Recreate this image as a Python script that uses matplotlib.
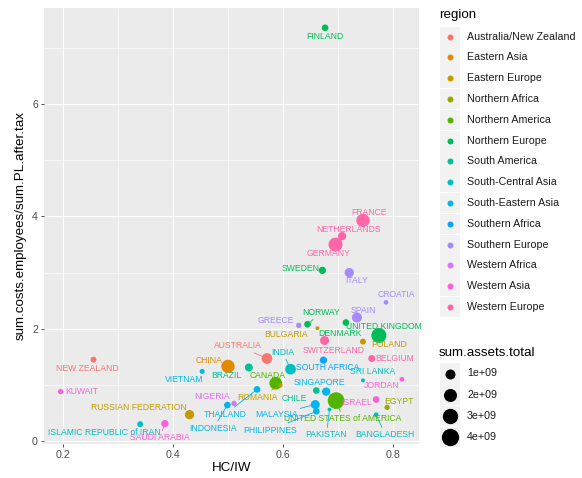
import numpy as np
import matplotlib.pyplot as plt
from matplotlib.patches import Rectangle

plt.rcParams['font.family'] = ['Liberation Sans', 'DejaVu Sans']

# data
countries = ["FINLAND", "FRANCE", "NETHERLANDS", "GERMANY", "SWEDEN", "ITALY", "CROATIA",
             "SPAIN", "GREECE", "NORWAY", "BULGARIA", "DENMARK", "UNITED KINGDOM", "POLAND",
             "SWITZERLAND", "AUSTRALIA", "INDIA", "CHINA", "BRAZIL", "SOUTH AFRICA", "BELGIUM",
             "SRI LANKA", "JORDAN", "CANADA", "ROMANIA", "SINGAPORE", "CHILE",
             "UNITED STATES of AMERICA", "ISRAEL", "EGYPT", "MALAYSIA", "PHILIPPINES",
             "PAKISTAN", "BANGLADESH", "THAILAND", "INDONESIA", "NIGERIA", "VIETNAM",
             "NEW ZEALAND", "KUWAIT", "RUSSIAN FEDERATION", "ISLAMIC REPUBLIC of IRAN",
             "SAUDI ARABIA"]
regions = ["Northern Europe", "Western Europe", "Western Europe", "Western Europe",
           "Northern Europe", "Southern Europe", "Southern Europe", "Southern Europe",
           "Southern Europe", "Northern Europe", "Eastern Europe", "Northern Europe",
           "Northern Europe", "Eastern Europe", "Western Europe", "Australia/New Zealand",
           "South-Central Asia", "Eastern Asia", "South America", "Southern Africa",
           "Western Europe", "South-Central Asia", "Western Asia", "Northern America",
           "Eastern Europe", "South-Eastern Asia", "South America", "Northern America",
           "Western Asia", "Northern Africa", "South-Eastern Asia", "South-Eastern Asia",
           "South-Central Asia", "South-Central Asia", "South-Eastern Asia",
           "South-Eastern Asia", "Western Africa", "South-Eastern Asia",
           "Australia/New Zealand", "Western Asia", "Eastern Europe", "South-Central Asia",
           "Western Asia"]
hc_iw = [0.677, 0.746, 0.708, 0.696, 0.672, 0.721, 0.788, 0.735, 0.629, 0.645, 0.663,
         0.715, 0.775, 0.746, 0.676, 0.571, 0.614, 0.500, 0.538, 0.674, 0.762, 0.746,
         0.817, 0.587, 0.596, 0.679, 0.661, 0.697, 0.770, 0.790, 0.659, 0.661, 0.685,
         0.770, 0.553, 0.499, 0.511, 0.453, 0.255, 0.195, 0.430, 0.340, 0.385]
cost_ratio = [7.36, 3.93, 3.65, 3.50, 3.04, 3.00, 2.47, 2.20, 2.06, 2.08, 2.01, 2.11, 1.88,
              1.77, 1.79, 1.47, 1.28, 1.33, 1.31, 1.44, 1.47, 1.08, 1.10, 1.03, 0.99, 0.88,
              0.90, 0.72, 0.74, 0.60, 0.65, 0.53, 0.56, 0.47, 0.92, 0.64, 0.67, 1.24, 1.45,
              0.88, 0.47, 0.30, 0.31]
assets = np.array([0.30, 2.10, 0.59, 2.40, 0.40, 0.82, 0.075, 1.00, 0.13, 0.30, 0.03, 0.30,
                   2.84, 0.20, 0.74, 1.20, 1.20, 2.10, 0.53, 0.40, 0.35, 0.03, 0.075, 1.88,
                   0.03, 0.59, 0.30, 3.68, 0.30, 0.13, 0.74, 0.30, 0.03, 0.075, 0.30, 0.30,
                   0.13, 0.10, 0.20, 0.13, 0.82, 0.20, 0.40]) * 1e9

region_levels = ["Australia/New Zealand", "Eastern Asia", "Eastern Europe", "Northern Africa",
                 "Northern America", "Northern Europe", "South America", "South-Central Asia",
                 "South-Eastern Asia", "Southern Africa", "Southern Europe", "Western Africa",
                 "Western Asia", "Western Europe"]
region_colors = ["#F8766D", "#E38900", "#C49A00", "#99A800", "#53B400", "#00BC56", "#00C094",
                 "#00BFC4", "#00B6EB", "#06A4FF", "#A58AFF", "#DF70F8", "#FB61D7", "#FF66A8"]
size_breaks = [1e9, 2e9, 3e9, 4e9]
size_labels = ["1e+09", "2e+09", "3e+09", "4e+09"]

# label placement (pixel offsets, y down), like ggrepel output
label_offsets = {
    "FINLAND": (0, 9), "FRANCE": (6, -8), "NETHERLANDS": (6, -7), "GERMANY": (-7, 9),
    "SWEDEN": (-22, -2), "ITALY": (7, 8), "CROATIA": (10, -8), "SPAIN": (6, -7),
    "GREECE": (-23, -5), "NORWAY": (14, -12), "BULGARIA": (-31, 6), "DENMARK": (-6, 11),
    "UNITED KINGDOM": (5, -9), "POLAND": (26, 3), "SWITZERLAND": (9, 10),
    "AUSTRALIA": (-29, -13), "INDIA": (-8, -17), "CHINA": (-19, -6), "BRAZIL": (-22, 8),
    "SOUTH AFRICA": (4, 7), "BELGIUM": (23, 0), "SRI LANKA": (10, -9), "JORDAN": (-20, 6),
    "CANADA": (-8, -8), "ROMANIA": (-23, 12), "SINGAPORE": (-7, -9), "CHILE": (-22, 8),
    "UNITED STATES of AMERICA": (7, 18), "ISRAEL": (-20, 3), "EGYPT": (12, -6),
    "MALAYSIA": (-39, 10), "PHILIPPINES": (-46, 19), "PAKISTAN": (-3, 25),
    "BANGLADESH": (9, 20), "THAILAND": (-32, 25), "INDONESIA": (-14, 23),
    "NIGERIA": (-22, -7), "VIETNAM": (-18, 8), "NEW ZEALAND": (-6, 9), "KUWAIT": (21, 0),
    "RUSSIAN FEDERATION": (-51, -7), "ISLAMIC REPUBLIC of IRAN": (-36, 8),
    "SAUDI ARABIA": (-5, 14),
}
with_segment = {"NORWAY", "AUSTRALIA", "INDIA", "ROMANIA", "UNITED STATES of AMERICA",
                "MALAYSIA", "PHILIPPINES", "PAKISTAN", "BANGLADESH", "THAILAND", "INDONESIA",
                "SAUDI ARABIA"}


def diam_px(v):
    return 2.7 + 7.3 * np.sqrt(np.asarray(v) / 1e9)


def to_s(d):
    return (d * 0.72) ** 2


color_of = dict(zip(region_levels, region_colors))
cols = [color_of[r] for r in regions]

W, H = 582, 478
fig = plt.figure(figsize=(W / 100, H / 100), dpi=100)
ax = fig.add_axes([43.5 / W, 34 / H, 375.5 / W, 436 / H])
ax.set_facecolor('#EBEBEB')
for s in ax.spines.values():
    s.set_visible(False)

x = np.array(hc_iw)
y = np.array(cost_ratio)
xs, ys = x.max() - x.min(), y.max() - y.min()
ax.set_xlim(x.min() - 0.05 * xs, x.max() + 0.05 * xs)
ax.set_ylim(y.min() - 0.05 * ys, y.max() + 0.05 * ys)
ax.set_xticks([0.2, 0.4, 0.6, 0.8])
ax.set_xticks([0.3, 0.5, 0.7], minor=True)
ax.set_yticks([0, 2, 4, 6])
ax.set_yticks([1, 3, 5, 7], minor=True)
ax.grid(which='major', color='white', lw=0.8)
ax.grid(which='minor', color='white', lw=0.4)
ax.set_axisbelow(True)
ax.tick_params(which='major', length=2.4, width=0.6, color='#333333', labelcolor='#4D4D4D',
               labelsize=7.7, pad=1.6)
ax.tick_params(which='minor', length=0)

ax.scatter(x, y, s=to_s(diam_px(assets)), c=cols, linewidths=0, zorder=2)

for c, xi, yi, col in zip(countries, x, y, cols):
    dx, dy = label_offsets[c]
    arrow = None
    if c in with_segment:
        arrow = dict(arrowstyle='-', color=col, lw=0.6, shrinkA=0, shrinkB=2)
    ax.annotate(c, (xi, yi), xytext=(dx, -dy), textcoords='offset pixels', ha='center',
                va='center', fontsize=6.2, color=col, arrowprops=arrow, zorder=3)

ax.set_xlabel('HC/IW', fontsize=9.6, labelpad=2)
ax.set_ylabel('sum.costs.employees/sum.PL.after.tax', fontsize=9.6, labelpad=4)

# legends drawn by hand to get the ggplot look
lax = fig.add_axes([0, 0, 1, 1])
lax.set_xlim(0, W)
lax.set_ylim(H, 0)
lax.axis('off')

lax.text(439, 15, 'region', fontsize=9.6, va='center', ha='left')
for i, (lev, col) in enumerate(zip(region_levels, region_colors)):
    cy = 36.5 + 20.8 * i
    lax.add_patch(Rectangle((439.5, cy - 10), 20.8, 20.2, facecolor='#F2F2F2', edgecolor='none'))
    lax.scatter([450], [cy], s=to_s(6), c=col, linewidths=0)
    lax.text(467, cy, lev, fontsize=7.7, va='center', ha='left', color='#1A1A1A')

lax.text(439, 353, 'sum.assets.total', fontsize=9.6, va='center', ha='left')
for i, (b, lab) in enumerate(zip(size_breaks, size_labels)):
    cy = 373.5 + 21.2 * i
    lax.add_patch(Rectangle((439.5, cy - 10.3), 20.8, 20.6, facecolor='#F2F2F2', edgecolor='none'))
    lax.scatter([450], [cy], s=to_s(diam_px(b)), c='black', linewidths=0)
    lax.text(467, cy, lab, fontsize=7.7, va='center', ha='left', color='#1A1A1A')

fig.savefig('out.png', dpi=100)
